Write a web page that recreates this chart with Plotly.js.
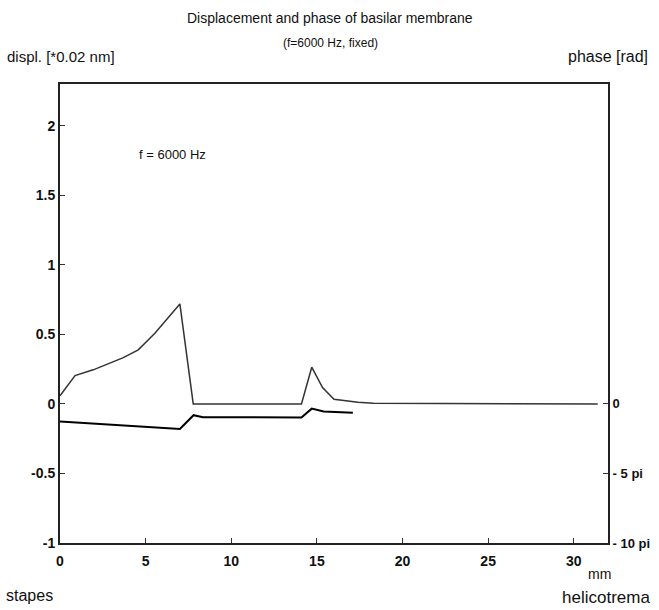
<!DOCTYPE html>
<html>
<head>
<meta charset="utf-8">
<script src="https://cdn.plot.ly/plotly-3.0.1.min.js"></script>
<style>html,body{margin:0;padding:0;background:#fff;}#chart{width:659px;height:610px;}</style>
</head>
<body>
<div id="chart"></div>
<script>
// Distance from stapes (mm) and displacement (*0.02 nm)
const displX = [0, 0.88, 1.94, 3.7, 4.57, 5.54, 7.0, 7.78, 14.1, 14.7, 15.33, 16.0, 17.4, 18.3, 31.4];
const displY = [0.058, 0.204, 0.245, 0.333, 0.389, 0.508, 0.719, 0.0, 0.0, 0.264, 0.117, 0.034, 0.012, 0.004, 0.0];
// Phase (rad)
const phaseX = [0, 7.0, 7.8, 8.35, 14.1, 14.7, 15.4, 17.1];
const phaseY = [-4.0, -5.65, -2.55, -3.0, -3.05, -1.07, -1.73, -1.98];
const leftTicks = [-1, -0.5, 0, 0.5, 1, 1.5, 2];
const leftTickText = ['-1', '-0.5', '0', '0.5', '1', '1.5', '2'];
const xTicks = [0, 5, 10, 15, 20, 25, 30];
const phaseTicks = [0, -5 * Math.PI, -10 * Math.PI];
const phaseTickText = ['0', '- 5 pi', '- 10 pi'];

const yMin = -1, yMax = 2.3;
const scale = 10 * Math.PI;

const fam = 'Liberation Sans, Arial, sans-serif';
const tickFont = {family: fam, size: 14, color: '#111', weight: 'bold'};

const traces = [
  {x: displX, y: displY, mode: 'lines', line: {color: '#333', width: 1.5}, xaxis: 'x', yaxis: 'y', hoverinfo: 'skip'},
  {x: phaseX, y: phaseY, mode: 'lines', line: {color: '#000', width: 2}, xaxis: 'x', yaxis: 'y2', hoverinfo: 'skip'}
];

const W = 659, H = 610, L = 60, R = 51, T = 84, B = 67;
const pw = W - L - R, ph = H - T - B;
function px(x) { return (x - L) / pw; }
function py(y) { return (H - B - y) / ph; }

const layout = {
  width: W, height: H,
  margin: {l: L, r: R, t: T, b: B},
  paper_bgcolor: '#fff', plot_bgcolor: '#fff',
  showlegend: false,
  font: {family: fam, color: '#111'},
  xaxis: {
    range: [0, 32], tickvals: xTicks, ticktext: xTicks.map(String),
    ticks: 'inside', ticklen: 5, tickwidth: 1, tickcolor: '#333',
    showline: true, linecolor: '#222', linewidth: 2, mirror: true,
    showgrid: false, zeroline: false, ticklabelstandoff: 4,
    tickfont: tickFont
  },
  yaxis: {
    range: [yMin, yMax], tickvals: leftTicks, ticktext: leftTickText,
    ticks: 'inside', ticklen: 5, tickwidth: 1, tickcolor: '#333',
    showline: true, linecolor: '#222', linewidth: 2,
    showgrid: false, zeroline: false,
    tickfont: tickFont
  },
  yaxis2: {
    overlaying: 'y', side: 'right',
    range: [yMin * scale, yMax * scale], tickvals: phaseTicks, ticktext: phaseTickText,
    ticks: 'inside', ticklen: 5, tickwidth: 1, tickcolor: '#333',
    showline: true, linecolor: '#222', linewidth: 2,
    showgrid: false, zeroline: false,
    tickfont: {family: fam, size: 13, color: '#111', weight: 'bold'}
  },
  annotations: [
    {text: 'Displacement and phase of basilar membrane', xref: 'paper', yref: 'paper', x: px(330), y: py(18), xanchor: 'center', yanchor: 'middle', showarrow: false, font: {size: 14, color: '#111'}},
    {text: '(f=6000 Hz, fixed)', xref: 'paper', yref: 'paper', x: px(330), y: py(43), xanchor: 'center', yanchor: 'middle', showarrow: false, font: {size: 12, color: '#111'}},
    {text: 'displ. [*0.02 nm]', xref: 'paper', yref: 'paper', x: px(5), y: py(57), xanchor: 'left', yanchor: 'middle', showarrow: false, font: {size: 15, color: '#111'}},
    {text: 'phase [rad]', xref: 'paper', yref: 'paper', x: px(650), y: py(57), xanchor: 'right', yanchor: 'middle', showarrow: false, font: {size: 16, color: '#111'}},
    {text: 'mm', xref: 'paper', yref: 'paper', x: px(599), y: py(574), xanchor: 'center', yanchor: 'middle', showarrow: false, font: {size: 14, color: '#111'}},
    {text: 'stapes', xref: 'paper', yref: 'paper', x: px(4), y: py(595), xanchor: 'left', yanchor: 'middle', showarrow: false, font: {size: 16, color: '#111'}},
    {text: 'helicotrema', xref: 'paper', yref: 'paper', x: px(652), y: py(597), xanchor: 'right', yanchor: 'middle', showarrow: false, font: {size: 17, color: '#111'}},
    {text: 'f = 6000 Hz', xref: 'x', yref: 'y', x: 4.5, y: 1.79, xanchor: 'left', yanchor: 'middle', showarrow: false, font: {size: 13, color: '#111'}}
  ]
};

Plotly.newPlot('chart', traces, layout, {staticPlot: true, displayModeBar: false});
</script>
</body>
</html>
